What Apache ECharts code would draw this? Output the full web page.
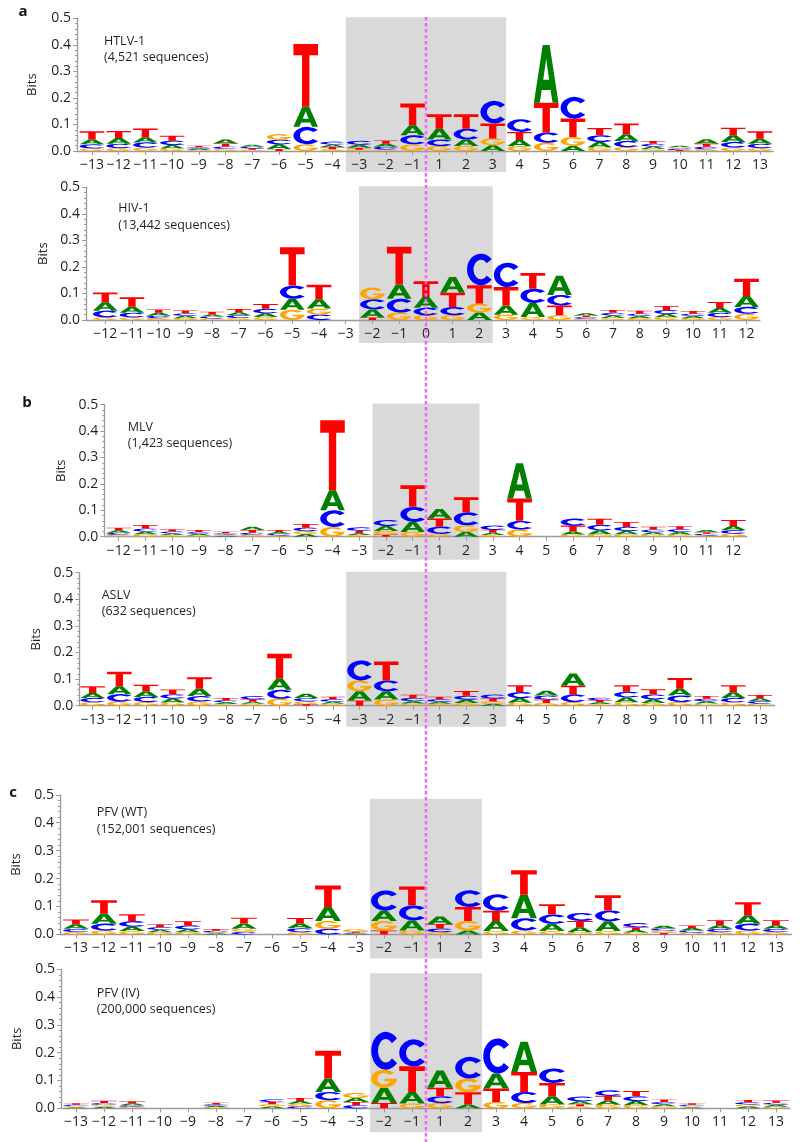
<!DOCTYPE html>
<html>
<head>
<meta charset="utf-8">
<script src="https://cdn.jsdelivr.net/npm/echarts@6.0.0/dist/echarts.min.js"></script>
<style>
html,body{margin:0;padding:0;background:#ffffff;}
#chart{width:800px;height:1142px;}
</style>
</head>
<body>
<div id="chart"></div>
<script>
// ---------------- data ----------------
const posHTLV = [-13,-12,-11,-10,-9,-8,-7,-6,-5,-4,-3,-2,-1,1,2,3,4,5,6,7,8,9,10,11,12,13];
const posHIV  = [-12,-11,-10,-9,-8,-7,-6,-5,-4,-3,-2,-1,0,1,2,3,4,5,6,7,8,9,10,11,12];
const posMLV  = [-12,-11,-10,-9,-8,-7,-6,-5,-4,-3,-2,-1,1,2,3,4,5,6,7,8,9,10,11,12];
const posASLV = [-13,-12,-11,-10,-9,-8,-7,-6,-5,-4,-3,-2,-1,1,2,3,4,5,6,7,8,9,10,11,12,13];
const posPFV  = [-13,-12,-11,-10,-9,-8,-7,-6,-5,-4,-3,-2,-1,1,2,3,4,5,6,7,8,9,10,11,12,13];

const panelNames  = ['HTLV-1','HIV-1','MLV','ASLV','PFV (WT)','PFV (IV)'];
const panelCounts = ['(4,521 sequences)','(13,442 sequences)','(1,423 sequences)','(632 sequences)','(152,001 sequences)','(200,000 sequences)'];
const panelTags   = ['a','','b','','c',''];
const shadeRanges = [[-3,3],[-2,2],[-2,2],[-3,3],[-2,2],[-2,2]];

// bits per letter (A, C, G, T) per position
const htlvA = [.018,.022,.020,.014,.005,.015,.008,.017,.076,.009,.012,.011,.038,.041,.024,.022,.023,.217,.019,.021,.025,.009,.006,.016,.025,.019];
const htlvC = [.015,.016,.019,.016,.005,.009,.006,.018,.066,.011,.014,.010,.034,.024,.041,.085,.048,.039,.082,.025,.023,.010,.005,.009,.021,.016];
const htlvG = [.010,.011,.013,.009,.004,.008,.005,.020,.025,.007,.005,.006,.025,.019,.019,.025,.018,.031,.034,.013,.015,.008,.005,.007,.013,.011];
const htlvT = [.031,.026,.033,.018,.006,.011,.005,.008,.236,.008,.007,.013,.082,.054,.054,.057,.031,.112,.069,.028,.041,.011,.004,.012,.029,.028];

const hivA = [.032,.023,.011,.009,.008,.011,.014,.041,.035,0,.031,.054,.041,.059,.028,.035,.053,.073,.008,.009,.008,.013,.008,.018,.041];
const hivC = [.025,.017,.009,.009,.007,.010,.017,.050,.020,0,.038,.052,.028,.031,.119,.092,.054,.039,.006,.010,.009,.014,.009,.016,.025];
const hivG = [.010,.010,.007,.007,.006,.008,.011,.039,.023,0,.044,.028,.018,.018,.034,.020,.011,.018,.005,.008,.007,.010,.007,.011,.024];
const hivT = [.037,.036,.013,.011,.010,.012,.018,.144,.055,0,.009,.142,.059,.054,.069,.069,.059,.037,.006,.011,.011,.016,.010,.023,.065];

const mlvA = [.009,.010,.007,.006,.004,.013,.007,.010,.076,.007,.019,.038,.036,.018,.009,.133,0,.012,.015,.013,.009,.010,.008,.016];
const mlvC = [.008,.012,.007,.007,.005,.008,.006,.013,.063,.012,.022,.057,.027,.050,.016,.033,0,.026,.021,.015,.010,.010,.006,.013];
const mlvG = [.007,.009,.006,.005,.004,.007,.005,.011,.037,.006,.014,.018,.011,.025,.006,.027,0,.008,.009,.009,.008,.008,.005,.012];
const mlvT = [.010,.013,.008,.007,.006,.010,.007,.014,.265,.010,.008,.082,.031,.056,.011,.085,0,.022,.023,.019,.011,.012,.006,.022];

const aslvA = [.019,.030,.021,.015,.028,.007,.008,.041,.016,.008,.034,.031,.009,.008,.013,.007,.018,.018,.046,.007,.018,.014,.026,.009,.022,.011];
const aslvC = [.016,.027,.019,.016,.020,.007,.012,.034,.013,.009,.075,.041,.012,.009,.014,.015,.022,.015,.028,.009,.021,.018,.024,.009,.016,.009];
const aslvG = [.013,.016,.014,.012,.016,.006,.007,.026,.010,.007,.041,.023,.008,.007,.010,.009,.011,.010,.014,.006,.013,.010,.014,.008,.013,.008];
const aslvT = [.025,.055,.025,.018,.043,.009,.009,.094,.006,.010,.020,.071,.012,.010,.018,.011,.026,.013,.033,.008,.025,.020,.040,.010,.026,.012];

const pfvWtA = [.016,.036,.016,.009,.010,.004,.019,0,.018,.050,.003,.037,.036,.027,.014,.036,.084,.026,.018,.035,.009,.010,.009,.013,.031,.013];
const pfvWtC = [.012,.024,.019,.009,.014,.005,.009,0,.014,.020,.003,.072,.054,.013,.060,.059,.044,.033,.029,.039,.014,.008,.008,.012,.024,.012];
const pfvWtG = [.008,.014,.012,.008,.008,.004,.011,0,.008,.028,.009,.034,.014,.008,.034,.012,.014,.012,.008,.012,.007,.007,.006,.008,.014,.008];
const pfvWtT = [.017,.048,.025,.010,.015,.006,.021,0,.019,.077,.004,.014,.068,.016,.050,.037,.088,.037,.022,.054,.010,.006,.009,.018,.046,.018];

const pfvIvA = [.004,.006,.007,0,0,.005,0,.007,.010,.048,.014,.055,.042,.062,.014,.054,.108,.029,.010,.015,.015,.008,.004,0,.007,.007];
const pfvIvC = [.005,.007,.006,0,0,.005,0,.009,.007,.030,.011,.136,.097,.024,.078,.126,.040,.052,.017,.019,.017,.008,.005,0,.008,.007];
const pfvIvG = [.004,.006,.005,0,0,.004,0,.008,.009,.029,.018,.065,.017,.019,.049,.023,.019,.014,.007,.013,.011,.007,.004,0,.007,.006];
const pfvIvT = [.005,.008,.007,0,0,.006,0,.008,.011,.100,.012,.019,.092,.031,.044,.048,.072,.048,.008,.017,.019,.009,.005,0,.008,.008];

// ---------------- layout / style ----------------
const FONT = '"Open Sans", "Noto Sans", sans-serif';
const TXT = '#231f20';
const AXIS = '#9a9a9a';
const SHADE = '#d9d9d9';
const PINK = '#f06af0';
const LETTER_FILL = ['#008000','#0000ff','#ffa500','#ff0000'];
const LETTER_PATH = [
  'M0 100L36 0L64 0L100 100L76 100L68 78L32 78L24 100Z M38 60L62 60L50 24Z',
  'M88.3 17.9A50 50 0 1 0 88.3 82.1L70.7 69.9A27 31 0 1 1 70.7 30.1Z',
  'M88.3 17.9A50 50 0 1 0 100 50L52 50L52 64L74.1 64A27 31 0 1 1 70.7 30.1Z',
  'M0 0L100 0L100 18L65 18L65 100L35 100L35 18L0 18Z'
];

const layouts = [
  {axisX:77,    top:18.3,  height:132.7, width:696.3, xMin:-0.56, xMax:25.5,  shTop:-1,   shBot:21, nameGap:38, textX:104,   textY:32.7,  tagX:23, tagY:12},
  {axisX:86,    top:187.3, height:132.7, width:673.9, xMin:-0.72, xMax:24.5,  shTop:-1,   shBot:23, nameGap:31, textX:118.3, textY:200.3},
  {axisX:104.3, top:404.7, height:132,   width:642.4, xMin:-0.54, xMax:23.5,  shTop:-1.3, shBot:23, nameGap:37, textX:127.7, textY:418.7, tagX:27, tagY:403},
  {axisX:79.3,  top:572.7, height:133,   width:695.3, xMin:-0.5,  xMax:25.55, shTop:-1,   shBot:21, nameGap:37, textX:101.7, textY:587},
  {axisX:60,    top:794.8, height:139.6, width:731.6, xMin:-0.57, xMax:25.56, shTop:4,    shBot:24, nameGap:37, textX:96.7,  textY:804.3, tagX:13, tagY:793},
  {axisX:61,    top:969.3, height:139,   width:729.1, xMin:-0.54, xMax:25.5,  shTop:4,    shBot:24, nameGap:37, textX:96.7,  textY:984.7}
];
const PINK_TOP = 17, PINK_BOTTOM = 1142;

const panelPos = [posHTLV, posHIV, posMLV, posASLV, posPFV, posPFV];
const panelBits = [
  [htlvA, htlvC, htlvG, htlvT],
  [hivA, hivC, hivG, hivT],
  [mlvA, mlvC, mlvG, mlvT],
  [aslvA, aslvC, aslvG, aslvT],
  [pfvWtA, pfvWtC, pfvWtG, pfvWtT],
  [pfvIvA, pfvIvC, pfvIvG, pfvIvT]
];

function fmtPos(v) { return v < 0 ? '\u2212' + Math.abs(v) : String(v); }

function stackData(bits) {
  const out = [];
  const n = bits[0].length;
  for (let j = 0; j < n; j++) {
    const items = [0,1,2,3].map(k => ({k, v: bits[k][j]})).filter(d => d.v > 0);
    items.sort((a, b) => a.v - b.v);
    let base = 0;
    items.forEach(d => { out.push([j, base, base + d.v, d.k]); base += d.v; });
  }
  return out;
}

function renderLetter(params, api) {
  const xi = api.value(0), y0 = api.value(1), y1 = api.value(2), k = api.value(3);
  const pB = api.coord([xi, y0]);
  const pT = api.coord([xi, y1]);
  const band = api.size([1, 0])[0];
  const w = band * 0.92;
  const h = pB[1] - pT[1];
  if (h < 0.3) return { type: 'group', children: [] };
  return {
    type: 'path',
    shape: { pathData: LETTER_PATH[k], x: pB[0] - w / 2, y: pT[1], width: w, height: h, layout: 'cover' },
    style: { fill: LETTER_FILL[k] }
  };
}

const grids = [], xAxes = [], yAxes = [], series = [], graphics = [];

layouts.forEach((L, i) => {
  const pos = panelPos[i];
  grids.push({ left: L.axisX, top: L.top, width: L.width, height: L.height, containLabel: false });
  const idx = pos.map((_, j) => j);
  xAxes.push({
    gridIndex: i, type: 'value', min: L.xMin, max: L.xMax,
    splitLine: { show: false },
    axisLine: { show: true, onZero: false, lineStyle: { color: AXIS, width: 1.3 } },
    axisTick: { show: true, customValues: idx, length: 4, lineStyle: { color: AXIS, width: 1 } },
    axisLabel: { customValues: idx, formatter: v => fmtPos(pos[Math.round(v)]), fontFamily: FONT, fontSize: 14, color: TXT, margin: 7 }
  });
  yAxes.push({
    gridIndex: i, type: 'value', min: 0, max: 0.5, interval: 0.1,
    name: 'Bits', nameLocation: 'middle', nameGap: L.nameGap, nameRotate: 90,
    nameTextStyle: { fontFamily: FONT, fontSize: 13, color: TXT },
    splitLine: { show: false },
    axisLine: { show: true, onZero: false, lineStyle: { color: AXIS, width: 1.3 } },
    axisTick: { show: true, length: 4, lineStyle: { color: AXIS } },
    minorTick: { show: true, splitNumber: 5, length: 2, lineStyle: { color: AXIS } },
    axisLabel: { formatter: v => v.toFixed(1), fontFamily: FONT, fontSize: 14, color: TXT, margin: 6 }
  });

  // shaded region
  const sr = shadeRanges[i];
  series.push({
    type: 'custom', xAxisIndex: i, yAxisIndex: i, z: -1, silent: true, clip: false,
    data: [[pos.indexOf(sr[0]), pos.indexOf(sr[1])]],
    renderItem: (params, api) => {
      const a = api.coord([api.value(0) - 0.5, 0.5]);
      const b = api.coord([api.value(1) + 0.5, 0]);
      return { type: 'rect', shape: { x: a[0], y: a[1] + L.shTop, width: b[0] - a[0], height: b[1] - a[1] - L.shTop + L.shBot }, style: { fill: SHADE } };
    }
  });

  // logo letters
  series.push({
    type: 'custom', xAxisIndex: i, yAxisIndex: i, z: 3, silent: true, clip: false,
    dimensions: ['x', 'y0', 'y1', 'k'],
    encode: { x: 0, y: [1, 2] },
    data: stackData(panelBits[i]),
    renderItem: renderLetter
  });

  graphics.push({
    type: 'text', x: L.textX, y: L.textY, silent: true,
    style: { text: panelNames[i] + '\n' + panelCounts[i], fontFamily: FONT, fontSize: 12.5, fill: TXT, lineHeight: 16.5, verticalAlign: 'top', align: 'left' }
  });
  if (panelTags[i]) {
    graphics.push({
      type: 'text', x: L.tagX, y: L.tagY, silent: true,
      style: { text: panelTags[i], fontFamily: FONT, fontSize: 15, fontWeight: 'bold', fill: '#111', verticalAlign: 'middle', align: 'center' }
    });
  }
});

// dashed cleavage line between -1 and +1 (drawn through whole figure)
series.push({
  type: 'custom', xAxisIndex: 0, yAxisIndex: 0, z: 20, silent: true, clip: false,
  data: [[posHTLV.indexOf(-1) + 0.5]],
  renderItem: (params, api) => {
    const x = api.coord([api.value(0), 0])[0];
    return { type: 'line', shape: { x1: x, y1: PINK_TOP, x2: x, y2: PINK_BOTTOM }, style: { stroke: PINK, lineWidth: 2.5, lineDash: [3.5, 2.5] } };
  }
});

const chart = echarts.init(document.getElementById('chart'), null, { renderer: 'canvas' });
chart.setOption({
  animation: false,
  backgroundColor: '#ffffff',
  grid: grids,
  xAxis: xAxes,
  yAxis: yAxes,
  series: series,
  graphic: graphics
});
</script>
</body>
</html>
